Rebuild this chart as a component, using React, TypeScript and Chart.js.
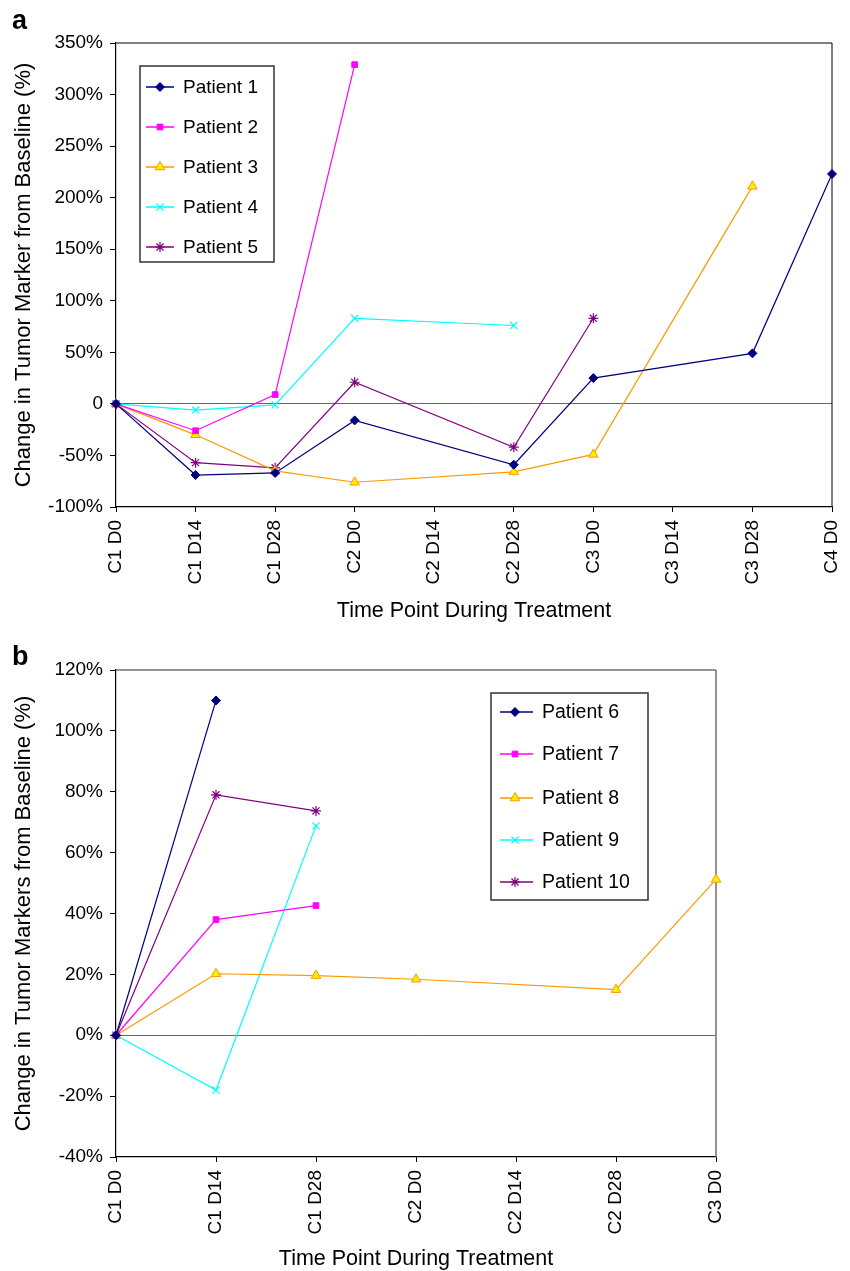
import React, { useEffect, useRef } from 'react';
import { Chart, registerables } from 'chart.js';
import { drawPoint } from 'chart.js/helpers';

Chart.register(...registerables);

// ---------- Data: panel a ----------
const timePointsA = ['C1 D0', 'C1 D14', 'C1 D28', 'C2 D0', 'C2 D14', 'C2 D28', 'C3 D0', 'C3 D14', 'C3 D28', 'C4 D0'];
const patient1 = [0, -69, -67, -16, null, -59, 25, null, 49, 223];
const patient2 = [0, -26, 9, 329, null, null, null, null, null, null];
const patient3 = [0, -30, -65, -76, null, -66, -49, null, 211, null];
const patient4 = [0, -6, -1, 83, null, 76, null, null, null, null];
const patient5 = [0, -57, -62, 21, null, -42, 83, null, null, null];
const namesA = ['Patient 1', 'Patient 2', 'Patient 3', 'Patient 4', 'Patient 5'];
const yTicksA = { min: -100, max: 350, step: 50 };

// ---------- Data: panel b ----------
const timePointsB = ['C1 D0', 'C1 D14', 'C1 D28', 'C2 D0', 'C2 D14', 'C2 D28', 'C3 D0'];
const patient6 = [0, 110, null, null, null, null, null];
const patient7 = [0, 38, 42.6, null, null, null, null];
const patient8 = [0, 20.2, 19.6, 18.4, null, 15, 51.2];
const patient9 = [0, -18, 68.8, null, null, null, null];
const patient10 = [0, 79, 73.7, null, null, null, null];
const namesB = ['Patient 6', 'Patient 7', 'Patient 8', 'Patient 9', 'Patient 10'];
const yTicksB = { min: -40, max: 120, step: 20 };

// ---------- Styles ----------
const seriesStyles = [
  { line: '#000080', fill: '#000080', border: '#000080', point: 'rectRot', radius: 4.5, bw: 1 },
  { line: '#FF00FF', fill: '#FF00FF', border: '#FF00FF', point: 'rect', radius: 4, bw: 1 },
  { line: '#FF9900', fill: '#FFEE00', border: '#FF9900', point: 'triangle', radius: 5.5, bw: 1 },
  { line: '#00FFFF', fill: '#00FFFF', border: '#00FFFF', point: 'crossRot', radius: 5, bw: 1.2 },
  { line: '#800080', fill: '#800080', border: '#800080', point: 'star', radius: 5, bw: 1.2 },
];

const FONT = "'Liberation Sans', Arial, Helvetica, sans-serif";

const boxLegendPlugin = {
  id: 'boxLegend',
  afterDraw(chart: any, _args: any, opts: any) {
    if (!opts || !opts.rows) return;
    const ctx = chart.ctx;
    ctx.save();
    ctx.fillStyle = '#ffffff';
    ctx.fillRect(opts.x, opts.y, opts.w, opts.h);
    ctx.strokeStyle = '#333333';
    ctx.lineWidth = 1.5;
    ctx.strokeRect(opts.x, opts.y, opts.w, opts.h);
    chart.data.datasets.forEach((ds: any, i: number) => {
      const y = opts.rows[i];
      ctx.strokeStyle = ds.borderColor;
      ctx.lineWidth = 1.5;
      ctx.beginPath();
      ctx.moveTo(opts.lineX0, y);
      ctx.lineTo(opts.lineX1, y);
      ctx.stroke();
      ctx.fillStyle = ds.pointBackgroundColor;
      ctx.strokeStyle = ds.pointBorderColor;
      ctx.lineWidth = ds.pointBorderWidth;
      drawPoint(ctx, { pointStyle: ds.pointStyle, radius: ds.pointRadius, rotation: 0, borderWidth: ds.pointBorderWidth }, opts.markerX, y);
      ctx.fillStyle = '#000000';
      ctx.font = `${opts.fontSize}px ${FONT}`;
      ctx.textBaseline = 'middle';
      ctx.textAlign = 'left';
      ctx.fillText(ds.label, opts.textX, y + 1);
    });
    ctx.restore();
  },
};

const framePlugin = {
  id: 'frame',
  beforeDatasetsDraw(chart: any, _args: any, opts: any) {
    const { left, right, top, bottom } = chart.chartArea;
    const ctx = chart.ctx;
    ctx.save();
    ctx.strokeStyle = opts.topColor;
    ctx.lineWidth = opts.topWidth;
    ctx.beginPath();
    ctx.moveTo(left, top);
    ctx.lineTo(right, top);
    ctx.stroke();
    ctx.strokeStyle = opts.rightColor;
    ctx.lineWidth = opts.rightWidth;
    ctx.beginPath();
    ctx.moveTo(right, top);
    ctx.lineTo(right, bottom);
    ctx.stroke();
    ctx.restore();
  },
};

const panelLabelPlugin = {
  id: 'panelLabel',
  afterDraw(chart: any, _args: any, opts: any) {
    if (!opts || !opts.text) return;
    const ctx = chart.ctx;
    ctx.save();
    ctx.fillStyle = '#000';
    ctx.font = `bold ${opts.size}px ${FONT}`;
    ctx.textBaseline = 'alphabetic';
    ctx.textAlign = 'left';
    ctx.fillText(opts.text, opts.x, opts.y);
    ctx.restore();
  },
};

function buildDatasets(series: (number | null)[][], names: string[]) {
  return series.map((data, i) => {
    const s = seriesStyles[i];
    return {
      label: names[i],
      data,
      borderColor: s.line,
      backgroundColor: s.fill,
      borderWidth: 1.2,
      pointStyle: s.point,
      pointRadius: s.radius,
      pointHoverRadius: s.radius,
      pointBackgroundColor: s.fill,
      pointBorderColor: s.border,
      pointBorderWidth: s.bw,
      spanGaps: true,
      tension: 0,
      clip: false as any,
    };
  });
}

function makeConfig(p: any) {
  return {
    type: 'line' as const,
    data: { labels: p.labels, datasets: buildDatasets(p.series, p.names) },
    options: {
      responsive: false,
      animation: false as const,
      devicePixelRatio: 1,
      layout: { padding: p.padding },
      plugins: {
        legend: { display: false },
        tooltip: { enabled: false },
        boxLegend: p.legend,
        frame: p.frame,
        panelLabel: p.panelLabel,
      },
      scales: {
        x: {
          type: 'category' as const,
          offset: false,
          afterFit: (scale: any) => {
            scale.height = p.xHeight;
            scale.paddingLeft = 0;
            scale.paddingRight = 0;
          },
          grid: { drawOnChartArea: false, drawTicks: true, tickLength: 5, tickColor: '#000', tickWidth: 1 },
          border: { display: true, color: '#000', width: 1.2 },
          ticks: {
            autoSkip: false,
            minRotation: 90,
            maxRotation: 90,
            padding: 8,
            color: '#000',
            font: { family: FONT, size: 19 },
          },
          title: {
            display: true,
            text: 'Time Point During Treatment',
            color: '#000',
            font: { family: FONT, size: 21.5, lineHeight: 1 },
            padding: { top: 0, bottom: p.xTitlePad },
          },
        },
        y: {
          min: p.yTicks.min,
          max: p.yTicks.max,
          afterFit: (scale: any) => { scale.width = 116; },
          grid: {
            drawOnChartArea: true,
            drawTicks: true,
            tickLength: 6,
            tickColor: '#000',
            color: (c: any) => (c.tick && c.tick.value === 0 ? '#666666' : 'rgba(0,0,0,0)'),
            lineWidth: 1,
          },
          border: { display: true, color: '#000', width: 1.2 },
          ticks: {
            stepSize: p.yTicks.step,
            padding: 7,
            color: '#000',
            font: { family: FONT, size: 19 },
            callback: (v: any) => p.zeroLabel(v),
          },
          title: {
            display: true,
            text: p.yTitle,
            color: '#000',
            font: { family: FONT, size: 22, lineHeight: 1 },
            padding: { top: 13, bottom: 0 },
          },
        },
      },
    },
    plugins: [framePlugin, boxLegendPlugin, panelLabelPlugin],
  };
}

export default function App() {
  const refA = useRef<HTMLCanvasElement>(null);
  const refB = useRef<HTMLCanvasElement>(null);

  useEffect(() => {
    const chartA = new Chart(refA.current as HTMLCanvasElement, makeConfig({
      labels: timePointsA,
      series: [patient1, patient2, patient3, patient4, patient5],
      names: namesA,
      yTicks: yTicksA,
      zeroLabel: (v: number) => (v === 0 ? '0' : `${v}%`),
      yTitle: 'Change in Tumor Marker from Baseline (%)',
      padding: { left: 0, right: 18, top: 43, bottom: 0 },
      xHeight: 128,
      xTitlePad: 13,
      legend: { x: 140, y: 66, w: 134, h: 196, rows: [87, 127, 167, 207, 247], lineX0: 146, lineX1: 174, markerX: 160, textX: 183, fontSize: 19 },
      frame: { topColor: '#808080', topWidth: 2, rightColor: '#000', rightWidth: 1 },
      panelLabel: { text: 'a', x: 12, y: 29, size: 27 },
    }) as any);

    const chartB = new Chart(refB.current as HTMLCanvasElement, makeConfig({
      labels: timePointsB,
      series: [patient6, patient7, patient8, patient9, patient10],
      names: namesB,
      yTicks: yTicksB,
      zeroLabel: (v: number) => `${v}%`,
      yTitle: 'Change in Tumor Markers from Baseline (%)',
      padding: { left: 0, right: 134, top: 35, bottom: 0 },
      xHeight: 114,
      xTitlePad: 1,
      legend: { x: 491, y: 58, w: 157, h: 207, rows: [77, 119, 163, 205, 247], lineX0: 500, lineX1: 533, markerX: 515, textX: 542, fontSize: 19.5 },
      frame: { topColor: '#707070', topWidth: 1.5, rightColor: '#707070', rightWidth: 1.5 },
      panelLabel: { text: 'b', x: 12, y: 30, size: 27 },
    }) as any);

    return () => {
      chartA.destroy();
      chartB.destroy();
    };
  }, []);

  return (
    <div style={{ position: 'absolute', left: 0, top: 0, width: 850, height: 1271, background: '#fff' }}>
      <canvas ref={refA} width={850} height={635} style={{ position: 'absolute', left: 0, top: 0, width: 850, height: 635 }} />
      <canvas ref={refB} width={850} height={636} style={{ position: 'absolute', left: 0, top: 635, width: 850, height: 636 }} />
    </div>
  );
}
